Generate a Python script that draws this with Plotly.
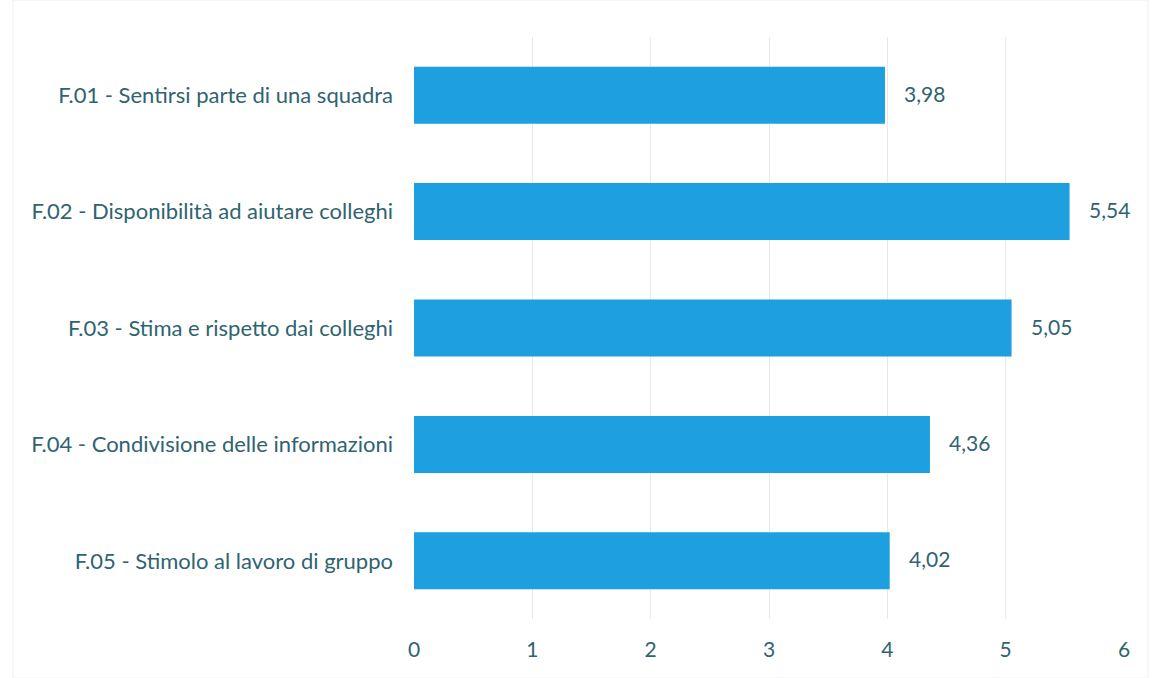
import plotly.graph_objects as go

categories = [
    "F.01 - Sentirsi parte di una squadra",
    "F.02 - Disponibilità ad aiutare colleghi",
    "F.03 - Stima e rispetto dai colleghi",
    "F.04 - Condivisione delle informazioni",
    "F.05 - Stimolo al lavoro di gruppo",
]
values = [3.98, 5.54, 5.05, 4.36, 4.02]
value_labels = ["3,98", "5,54", "5,05", "4,36", "4,02"]
x_ticks = [0, 1, 2, 3, 4, 5, 6]

TEXT = "#2F6470"
BAR = "#1E9FDF"
FONT = "Lato, 'Open Sans', sans-serif"

fig = go.Figure(go.Bar(
    y=categories,
    x=values,
    orientation="h",
    marker=dict(color=BAR, line=dict(width=0)),
    hoverinfo="skip",
))

for cat, v, lab in zip(categories, values, value_labels):
    fig.add_annotation(x=v, y=cat, text=lab, showarrow=False,
                       xanchor="left", xshift=17, yshift=2,
                       font=dict(size=21, color=TEXT, family=FONT))

fig.update_layout(
    width=1158, height=678,
    margin=dict(l=414, r=34, t=37, b=59),
    paper_bgcolor="white",
    plot_bgcolor="white",
    bargap=0.51,
    showlegend=False,
    font=dict(family=FONT, color=TEXT, size=21),
)
fig.update_xaxes(
    range=[0, 6],
    tickvals=x_ticks,
    showgrid=True, gridcolor="#E9E9E9", gridwidth=1,
    zeroline=False, showline=False,
    tickfont=dict(size=21, color=TEXT),
    ticks="", ticklabelstandoff=16,
)
fig.update_yaxes(
    categoryorder="array",
    categoryarray=categories,
    autorange="reversed",
    showgrid=False, zeroline=False, showline=False,
    tickfont=dict(size=22, color=TEXT),
    ticks="", ticklabelstandoff=20,
)
fig.add_shape(type="rect", xref="paper", yref="paper",
              x0=-401/710, x1=1 + 24/710, y0=-59/582, y1=1 + 37/582,
              line=dict(color="#F0F0F0", width=1), layer="below")

fig.write_html("out.html")
